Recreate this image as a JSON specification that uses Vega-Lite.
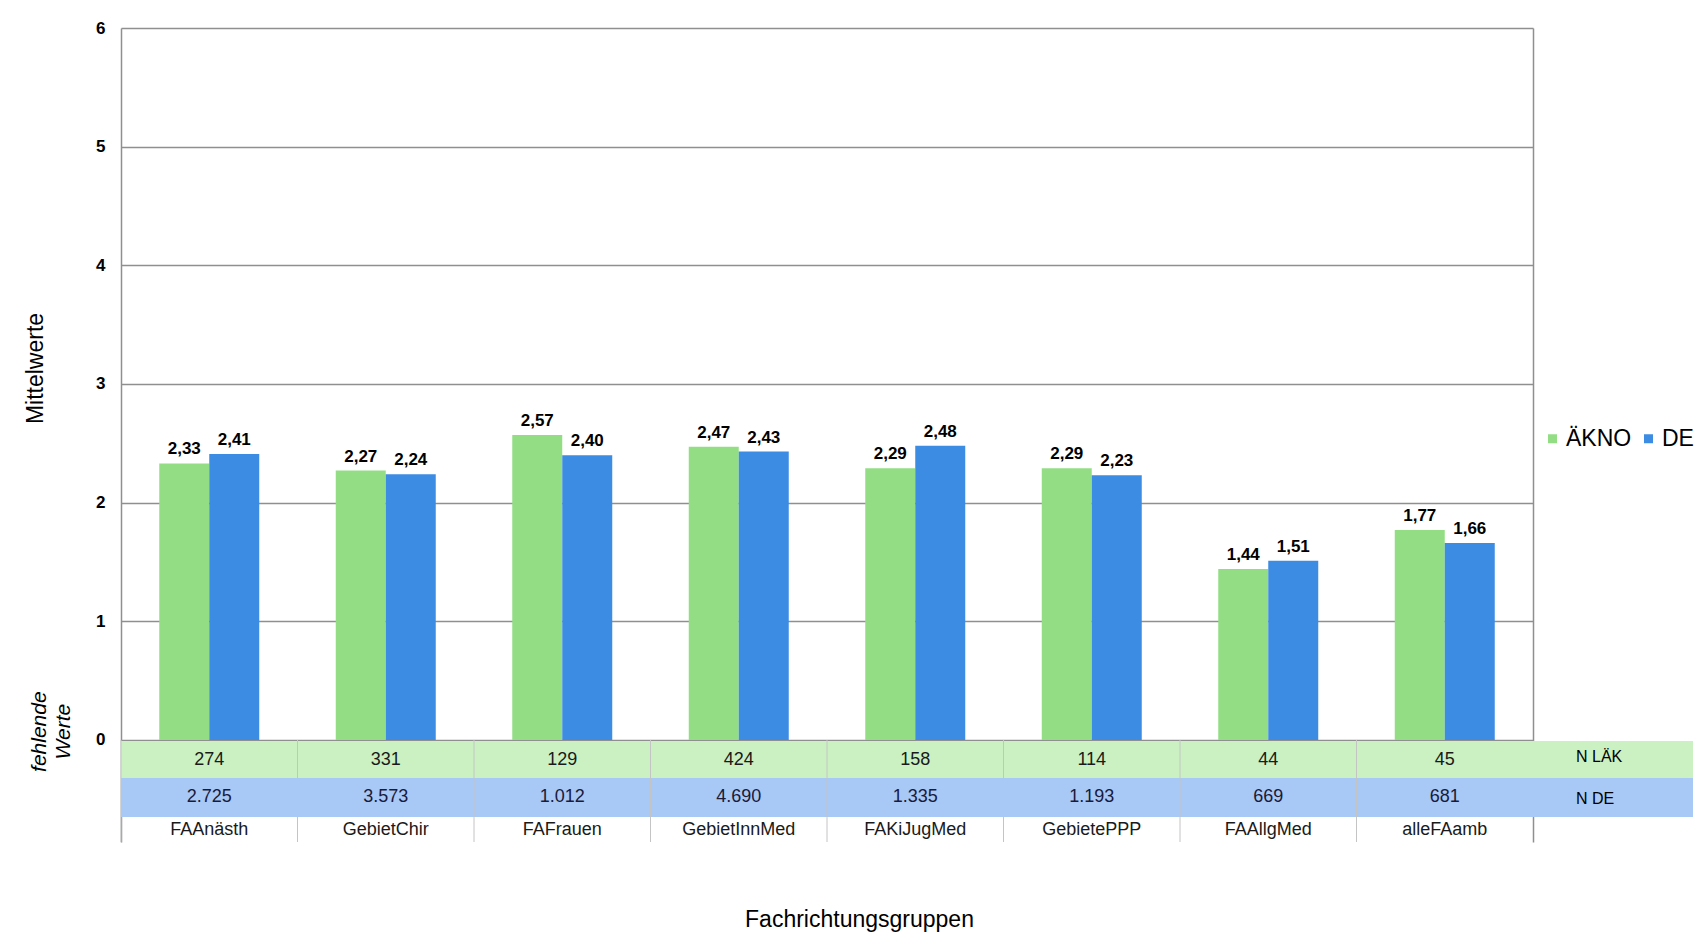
{
  "$schema": "https://vega.github.io/schema/vega-lite/v6.json",
  "padding": {"left": 24, "top": 19, "right": 3, "bottom": 5},
  "background": "white",
  "spacing": 0,
  "bounds": "flush",
  "config": {
    "locale": {"number": {"decimal": ",", "thousands": ".", "grouping": [3], "currency": ["", " €"]}},
    "font": "Liberation Sans",
    "view": {"stroke": null},
    "axis": {"labelFont": "Liberation Sans", "titleFont": "Liberation Sans"},
    "legend": {"labelFont": "Liberation Sans"},
    "text": {"font": "Liberation Sans"}
  },
  "datasets": {
    "bars": [
      {"cat": "FAAnästh", "group": "ÄKNO", "value": 2.33},
      {"cat": "FAAnästh", "group": "DE", "value": 2.41},
      {"cat": "GebietChir", "group": "ÄKNO", "value": 2.27},
      {"cat": "GebietChir", "group": "DE", "value": 2.24},
      {"cat": "FAFrauen", "group": "ÄKNO", "value": 2.57},
      {"cat": "FAFrauen", "group": "DE", "value": 2.40},
      {"cat": "GebietInnMed", "group": "ÄKNO", "value": 2.47},
      {"cat": "GebietInnMed", "group": "DE", "value": 2.43},
      {"cat": "FAKiJugMed", "group": "ÄKNO", "value": 2.29},
      {"cat": "FAKiJugMed", "group": "DE", "value": 2.48},
      {"cat": "GebietePPP", "group": "ÄKNO", "value": 2.29},
      {"cat": "GebietePPP", "group": "DE", "value": 2.23},
      {"cat": "FAAllgMed", "group": "ÄKNO", "value": 1.44},
      {"cat": "FAAllgMed", "group": "DE", "value": 1.51},
      {"cat": "alleFAamb", "group": "ÄKNO", "value": 1.77},
      {"cat": "alleFAamb", "group": "DE", "value": 1.66}
    ],
    "table": [
      {"cat": "FAAnästh", "nlak": 274, "nde": 2725},
      {"cat": "GebietChir", "nlak": 331, "nde": 3573},
      {"cat": "FAFrauen", "nlak": 129, "nde": 1012},
      {"cat": "GebietInnMed", "nlak": 424, "nde": 4690},
      {"cat": "FAKiJugMed", "nlak": 158, "nde": 1335},
      {"cat": "GebietePPP", "nlak": 114, "nde": 1193},
      {"cat": "FAAllgMed", "nlak": 44, "nde": 669},
      {"cat": "alleFAamb", "nlak": 45, "nde": 681}
    ]
  },
  "hconcat": [
    {
      "width": 1412,
      "height": 814,
      "resolve": {"axis": {"y": "independent"}},
      "layer": [
        {
          "data": {"name": "table"},
          "mark": {"type": "rect", "color": "#CBF1C2"},
          "encoding": {
            "x": {
              "field": "cat", "type": "nominal", "sort": null,
              "scale": {"domain": ["FAAnästh", "GebietChir", "FAFrauen", "GebietInnMed", "FAKiJugMed", "GebietePPP", "FAAllgMed", "alleFAamb"], "paddingInner": 0, "paddingOuter": 0},
              "axis": {"labels": false, "ticks": false, "domain": false, "grid": false, "title": "Fachrichtungsgruppen", "titleFontSize": 23, "titleFontWeight": "normal", "titleColor": "#000", "titleX": 738, "titleY": 77, "titleBaseline": "middle"}
            },
            "y": {
              "datum": -0.008, "type": "quantitative",
              "scale": {"domain": [-0.86, 6], "nice": false, "zero": false},
              "axis": {"values": [0, 1, 2, 3, 4, 5, 6], "format": "d", "grid": true, "gridColor": "#8f8f8f", "gridWidth": 1.5, "domainColor": "#8f8f8f", "domainWidth": 1.5, "ticks": false, "labelFontWeight": "bold", "labelFontSize": 17, "labelColor": "#000", "labelPadding": 16, "title": "Mittelwerte", "titleFontSize": 23, "titleFontWeight": "normal", "titleColor": "#000", "titleX": -86, "titleY": 340, "titleBaseline": "middle"}
            },
            "y2": {"datum": -0.32}
          }
        },
        {
          "data": {"name": "table"},
          "mark": {"type": "rect", "color": "#A8C8F6"},
          "encoding": {
            "x": {"field": "cat", "type": "nominal", "sort": null},
            "y": {"datum": -0.32, "type": "quantitative", "axis": null},
            "y2": {"datum": -0.65}
          }
        },
        {
          "data": {"name": "table"},
          "mark": {"type": "rule", "color": "#c4c4c4", "strokeWidth": 1},
          "encoding": {
            "x": {"field": "cat", "type": "nominal", "sort": null, "bandPosition": 0},
            "y": {"datum": 0, "type": "quantitative", "axis": {"orient": "right", "labels": false, "ticks": false, "grid": false, "domain": true, "domainColor": "#8f8f8f", "domainWidth": 1.5, "title": null}},
            "y2": {"datum": -0.86}
          }
        },
        {
          "data": {"name": "bars"},
          "mark": {"type": "bar"},
          "encoding": {
            "x": {"field": "cat", "type": "nominal", "sort": null},
            "xOffset": {"field": "group", "type": "nominal", "sort": null, "scale": {"domain": ["ÄKNO", "DE"], "paddingInner": 0, "paddingOuter": 0.765}},
            "y": {"field": "value", "type": "quantitative", "axis": null},
            "color": {
              "field": "group", "type": "nominal",
              "scale": {"domain": ["ÄKNO", "DE"], "range": ["#93DE84", "#3D8CE3"]},
              "legend": {"title": null, "orient": "none", "legendX": 1420, "legendY": 399, "direction": "horizontal", "symbolType": "square", "symbolSize": 81, "symbolStrokeWidth": 0, "labelFontSize": 23, "labelColor": "#000", "labelOffset": 2, "columnPadding": 5}
            }
          }
        },
        {
          "data": {"name": "bars"},
          "mark": {"type": "text", "fontWeight": "bold", "fontSize": 17, "baseline": "bottom", "dy": -5, "color": "#000"},
          "encoding": {
            "x": {"field": "cat", "type": "nominal", "sort": null},
            "xOffset": {"field": "group", "type": "nominal", "sort": null},
            "y": {"field": "value", "type": "quantitative", "axis": null},
            "text": {"field": "value", "type": "quantitative", "format": ".2f"}
          }
        },
        {
          "data": {"name": "table"},
          "mark": {"type": "text", "fontSize": 18, "baseline": "middle", "color": "#1a1a1a"},
          "encoding": {
            "x": {"field": "cat", "type": "nominal", "sort": null},
            "y": {"datum": -0.17, "type": "quantitative", "axis": null},
            "text": {"field": "nlak", "type": "quantitative", "format": ",d"}
          }
        },
        {
          "data": {"name": "table"},
          "mark": {"type": "text", "fontSize": 18, "baseline": "middle", "color": "#1a1a3a"},
          "encoding": {
            "x": {"field": "cat", "type": "nominal", "sort": null},
            "y": {"datum": -0.48, "type": "quantitative", "axis": null},
            "text": {"field": "nde", "type": "quantitative", "format": ",d"}
          }
        },
        {
          "data": {"name": "table"},
          "mark": {"type": "text", "fontSize": 18, "baseline": "middle", "color": "#1a1a1a"},
          "encoding": {
            "x": {"field": "cat", "type": "nominal", "sort": null},
            "y": {"datum": -0.76, "type": "quantitative", "axis": null},
            "text": {"field": "cat", "type": "nominal"}
          }
        },
        {
          "data": {"values": [{"t": ["fehlende", "Werte"]}]},
          "mark": {"type": "text", "fontSize": 21, "fontStyle": "italic", "angle": 270, "align": "center", "baseline": "middle", "lineHeight": 24, "dy": -81, "color": "#000"},
          "encoding": {
            "x": {"datum": "FAAnästh", "type": "nominal", "bandPosition": 0},
            "y": {"datum": 0.07, "type": "quantitative", "axis": null},
            "text": {"field": "t"}
          }
        }
      ]
    },
    {
      "width": 160,
      "height": 814,
      "data": {"values": [{}]},
      "layer": [
        {
          "mark": {"type": "rect", "color": "#CBF1C2"},
          "encoding": {
            "y": {"datum": -0.008, "type": "quantitative", "scale": {"domain": [-0.86, 6], "nice": false, "zero": false}, "axis": null},
            "y2": {"datum": -0.32}
          }
        },
        {
          "mark": {"type": "rect", "color": "#A8C8F6"},
          "encoding": {
            "y": {"datum": -0.32, "type": "quantitative", "axis": null},
            "y2": {"datum": -0.65}
          }
        },
        {
          "mark": {"type": "text", "text": "N LÄK", "fontSize": 16, "align": "left", "baseline": "middle", "dx": -37, "color": "#000"},
          "encoding": {
            "y": {"datum": -0.145, "type": "quantitative", "axis": null}
          }
        },
        {
          "mark": {"type": "text", "text": "N DE", "fontSize": 16, "align": "left", "baseline": "middle", "dx": -37, "color": "#000"},
          "encoding": {
            "y": {"datum": -0.5, "type": "quantitative", "axis": null}
          }
        }
      ]
    }
  ]
}
